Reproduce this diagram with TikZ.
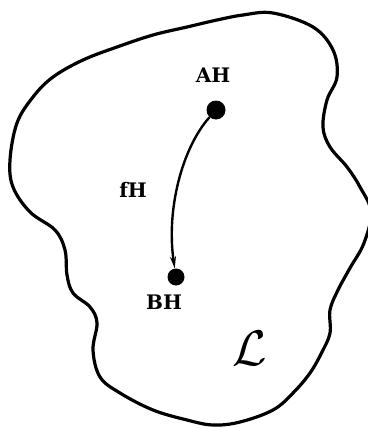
\documentclass[tikz,border=0pt]{standalone}
\usepackage{fontspec}
\newfontfamily\lblfont{DejaVu Serif}
\usetikzlibrary{arrows.meta}
\tikzset{
  dot/.style={circle,fill=black,inner sep=0pt,minimum size=19pt},
  lbl/.style={font=\lblfont\bfseries\fontsize{20}{22}\selectfont,inner sep=0pt},
  outline/.style={line width=3.2pt,line join=round},
  conn/.style={line width=2.4pt,-{Stealth[length=12pt,width=6pt]}}
}
\begin{document}
\begin{tikzpicture}[x=1pt,y=-1pt]
\useasboundingbox (0,0) rectangle (367,428);
\draw[outline] plot[smooth cycle,tension=0.6] coordinates {
 (273,13) (313,27) (333,50) (337,77) (327,100) (323,127) (330,147) (347,167) (360,187)
 (371,212) (364,243) (350,268) (338,290) (330,310) (330,333) (322,352) (310,373) (293,393)
 (273,410) (240,422) (213,425) (187,420) (153,410) (120,393) (100,377) (93,350) (97,323)
 (90,307) (73,293) (67,275) (65,250) (55,230) (30,212) (13,187) (10,160) (17,123) (33,97)
 (53,77) (83,60) (117,47) (153,35) (187,27) (217,20) (243,15)};
\node[dot] (A) at (216,110) {};
\node[dot,minimum size=17pt] (B) at (176,277) {};
\node[lbl] (la) at (213,75) {AH};
\node[lbl] (lf) at (133,190) {fH};
\node[lbl] (lb) at (164,302) {BH};
\node[inner sep=0pt,scale=5] (L) at (250,348) {$\mathcal{L}$};
\draw[conn] (A) .. controls (182,148) and (166,210) .. (B);
\end{tikzpicture}
\end{document}
